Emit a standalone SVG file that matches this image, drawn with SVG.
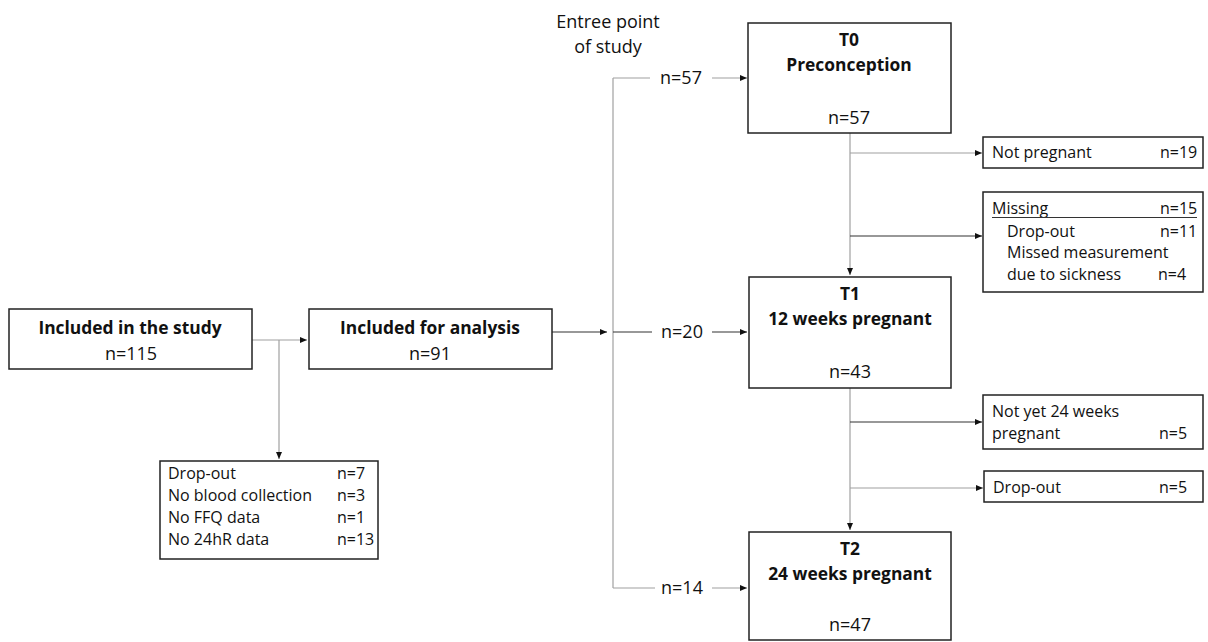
<svg xmlns="http://www.w3.org/2000/svg" width="1208" height="642" viewBox="0 0 1208 642">
<style>
text{font-family:"Open Sans","Liberation Sans",sans-serif;fill:#111}
.b{font-weight:bold;font-size:17.4px}
.m{font-size:18px}
.s{font-size:16px}
.c{text-anchor:middle}
rect{fill:#fff;stroke:#222;stroke-width:1.5}
.g{stroke:#a0a0a0;stroke-width:1.2;fill:none}
.k{stroke:#333;stroke-width:1.2;fill:none}
</style>
<defs>
<marker id="ah" markerWidth="8" markerHeight="8" refX="7" refY="4" orient="auto" markerUnits="userSpaceOnUse">
<path d="M0,1 L7,4 L0,7 Z" fill="#111"/>
</marker>
</defs>
<g id="connectors">
<path class="g" d="M252,340 H307" marker-end="url(#ah)"/>
<path class="g" d="M279,340 V459" marker-end="url(#ah)"/>
<path class="k" d="M552,332 H607" marker-end="url(#ah)"/>
<path class="g" d="M613,78 V588"/>
<path class="g" d="M613,78 H650 M712,78 H747" marker-end="url(#ah)"/>
<path class="k" d="M613,332 H652 M712,332 H747" marker-end="url(#ah)"/>
<path class="g" d="M613,588 H655 M712,588 H747" marker-end="url(#ah)"/>
<path class="g" d="M850,133 V275" marker-end="url(#ah)"/>
<path class="g" d="M850,153 H982" marker-end="url(#ah)"/>
<path class="k" d="M850,236 H982" marker-end="url(#ah)"/>
<path class="g" d="M850,388 V530" marker-end="url(#ah)"/>
<path class="k" d="M850,422 H982" marker-end="url(#ah)"/>
<path class="g" d="M850,488 H983" marker-end="url(#ah)"/>
<text class="m" x="681" y="84" text-anchor="middle">n=57</text>
<text class="m" x="682" y="338" text-anchor="middle">n=20</text>
<text class="m" x="682" y="594" text-anchor="middle">n=14</text>
</g>
<g id="entree">
<text class="m c" x="608" y="28">Entree point</text>
<text class="m c" x="608" y="53">of study</text>
</g>
<g id="included-study">
<rect x="9" y="309" width="243" height="60"/>
<text class="b c" x="130" y="334">Included in the study</text>
<text class="m c" x="131" y="360">n=115</text>
</g>
<g id="included-analysis">
<rect x="309" y="309" width="243" height="60"/>
<text class="b c" x="430" y="334">Included for analysis</text>
<text class="m c" x="430" y="360">n=91</text>
</g>
<g id="exclusions">
<rect x="160" y="461" width="218" height="98"/>
<text class="s" x="168" y="479">Drop-out</text>
<text class="s" x="337" y="479">n=7</text>
<text class="s" x="168" y="501">No blood collection</text>
<text class="s" x="337" y="501">n=3</text>
<text class="s" x="168" y="523">No FFQ data</text>
<text class="s" x="337" y="523">n=1</text>
<text class="s" x="168" y="545">No 24hR data</text>
<text class="s" x="337" y="545">n=13</text>
</g>
<g id="t0">
<rect x="748" y="23" width="203" height="110"/>
<text class="b c" x="849" y="46">T0</text>
<text class="b c" x="849" y="71">Preconception</text>
<text class="m c" x="849" y="124">n=57</text>
</g>
<g id="t1">
<rect x="749" y="277" width="202" height="111"/>
<text class="b c" x="850" y="300">T1</text>
<text class="b c" x="850" y="325">12 weeks pregnant</text>
<text class="m c" x="850" y="378">n=43</text>
</g>
<g id="t2">
<rect x="749" y="532" width="202" height="108"/>
<text class="b c" x="850" y="555">T2</text>
<text class="b c" x="850" y="580">24 weeks pregnant</text>
<text class="m c" x="850" y="631">n=47</text>
</g>
<g id="not-pregnant">
<rect x="983" y="137" width="220" height="31"/>
<text class="s" x="992" y="158">Not pregnant</text>
<text class="s" x="1160" y="158">n=19</text>
</g>
<g id="missing">
<rect x="983" y="192" width="220" height="100"/>
<text class="s" x="992" y="214">Missing</text>
<text class="s" x="1160" y="214">n=15</text>
<line x1="992" y1="217.5" x2="1197" y2="217.5" stroke="#333" stroke-width="1"/>
<text class="s" x="1007" y="237">Drop-out</text>
<text class="s" x="1160" y="237">n=11</text>
<text class="s" x="1007" y="258">Missed measurement</text>
<text class="s" x="1007" y="280">due to sickness</text>
<text class="s" x="1158" y="280">n=4</text>
</g>
<g id="not-yet-24">
<rect x="983" y="395" width="220" height="54"/>
<text class="s" x="992" y="417">Not yet 24 weeks</text>
<text class="s" x="992" y="439">pregnant</text>
<text class="s" x="1159" y="439">n=5</text>
</g>
<g id="dropout-t1">
<rect x="984" y="471" width="219" height="31"/>
<text class="s" x="993" y="493">Drop-out</text>
<text class="s" x="1159" y="493">n=5</text>
</g>
</svg>
